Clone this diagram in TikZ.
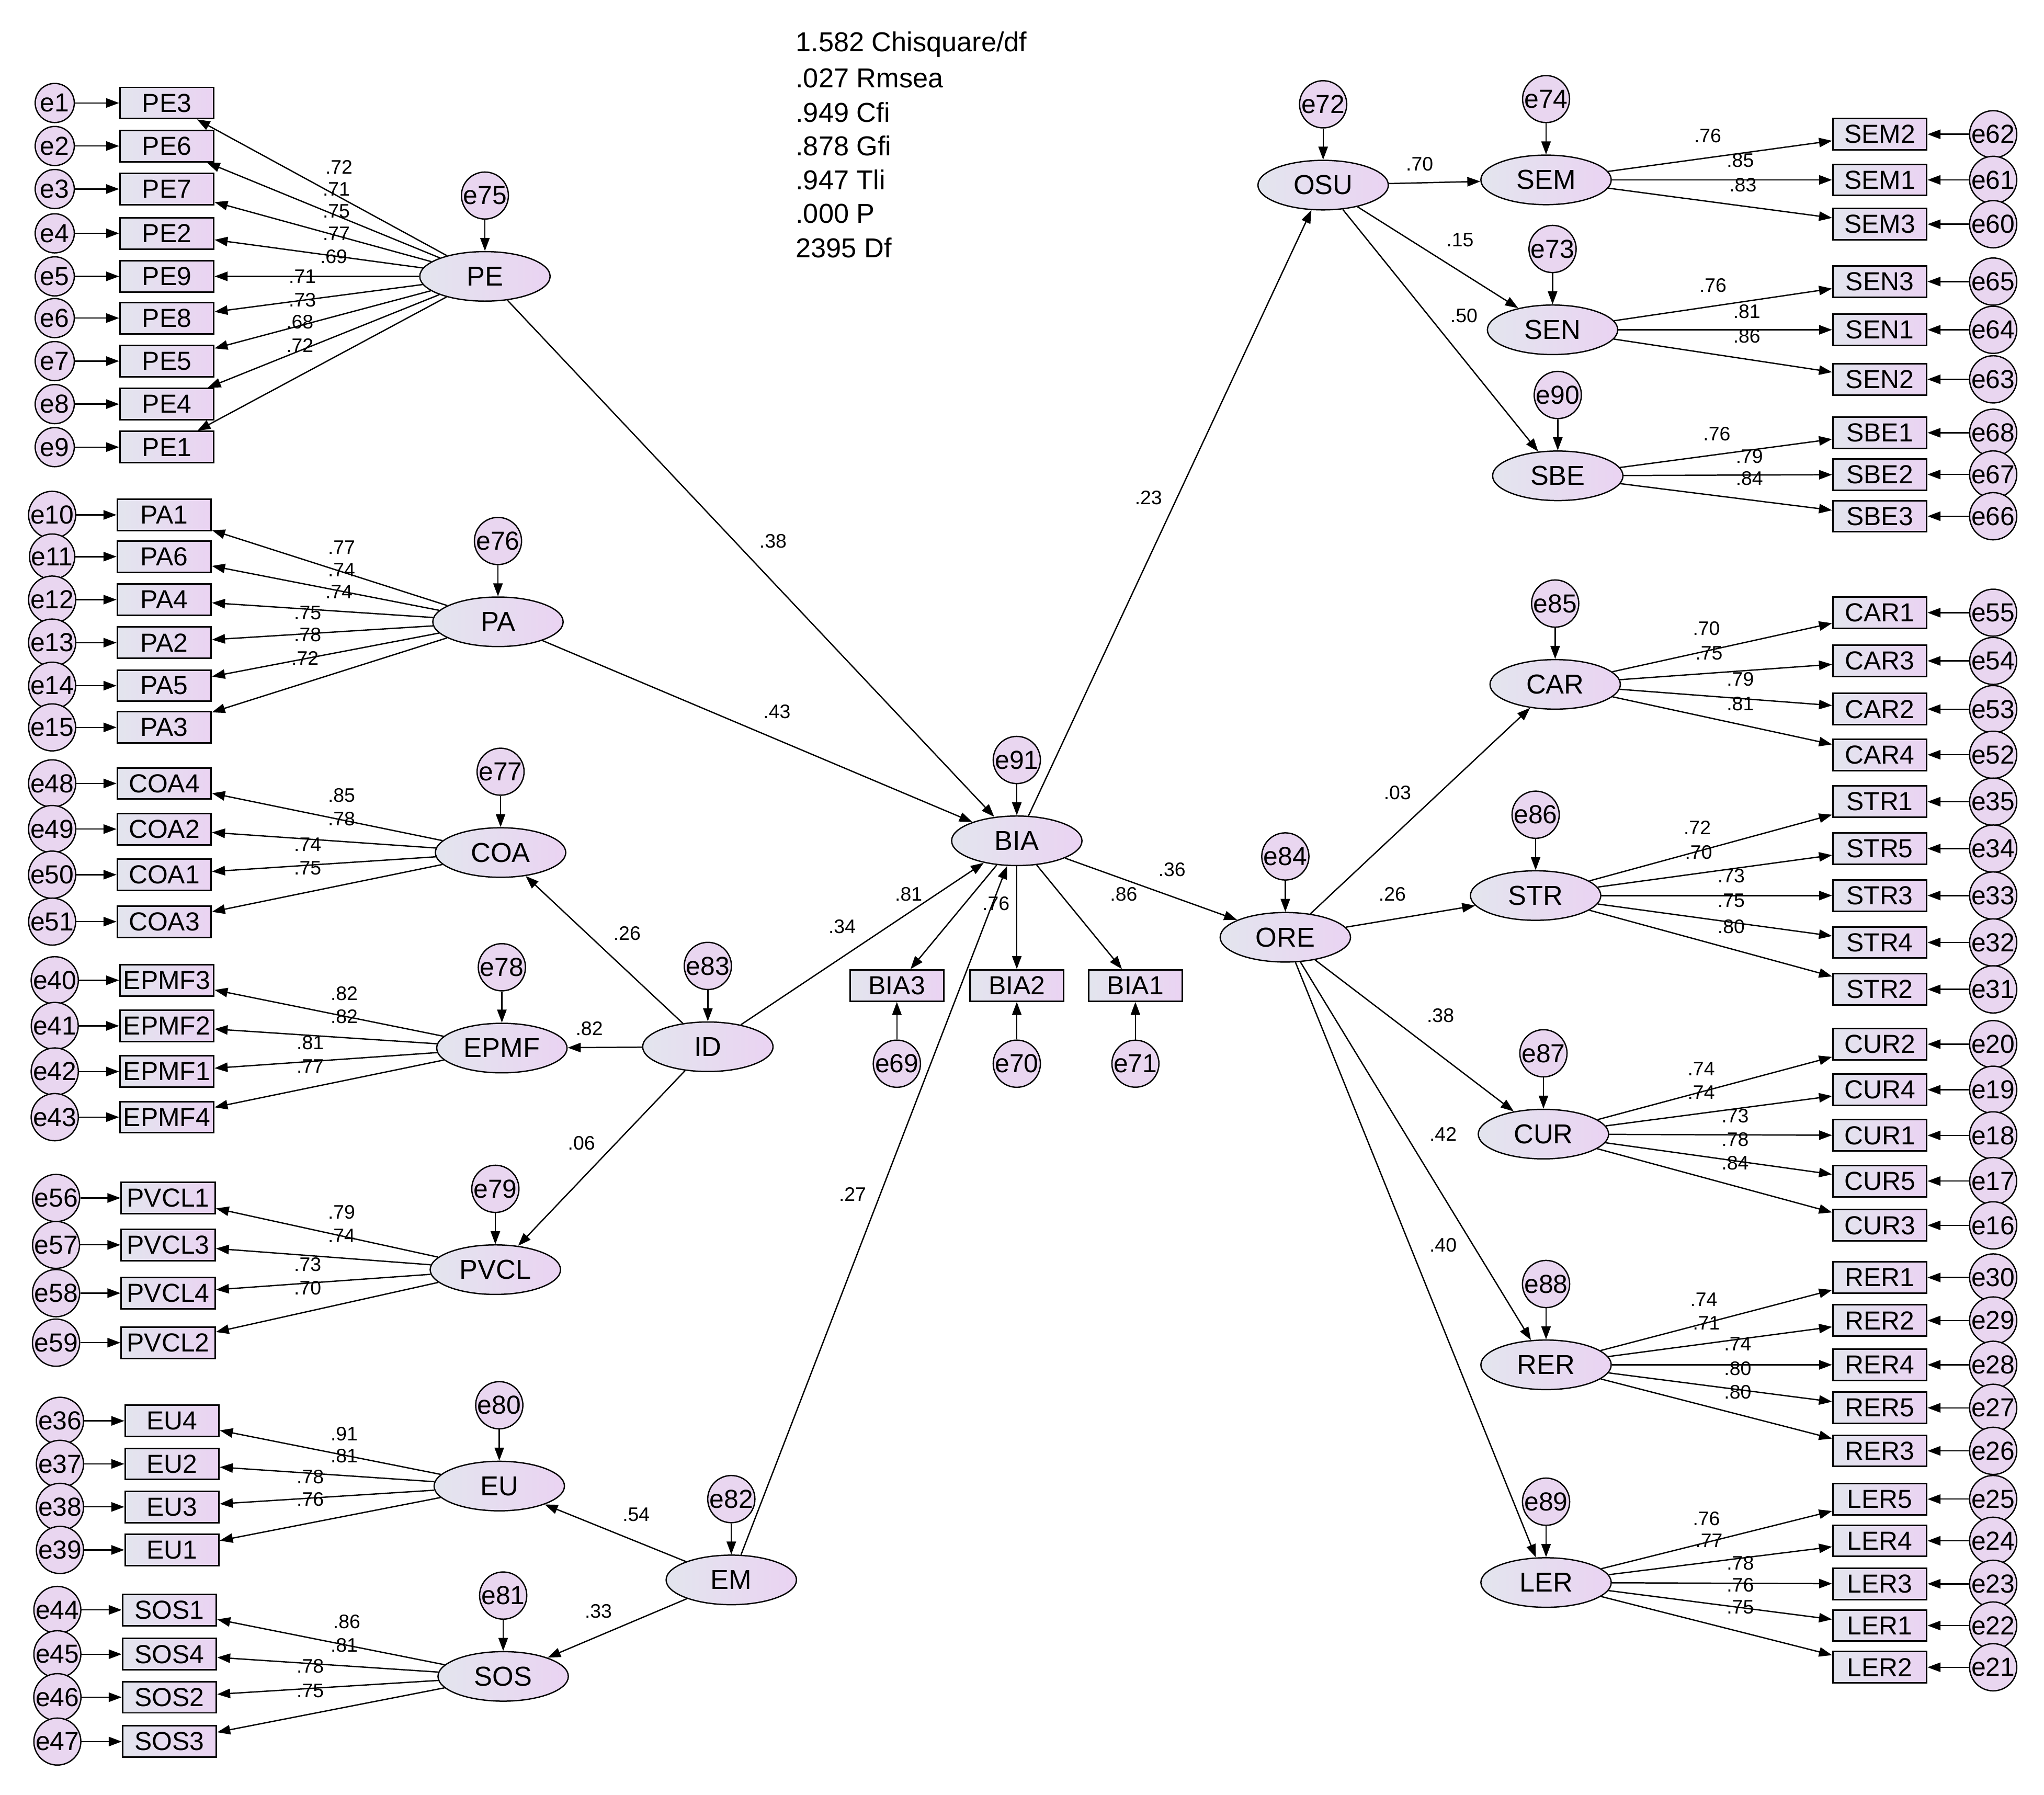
\documentclass[tikz,border=0pt]{standalone}
\usepackage{fontspec}
\setmainfont{Liberation Sans}
\usetikzlibrary{shapes.geometric,arrows.meta}
\definecolor{gl}{HTML}{E3E5EE}
\definecolor{gr}{HTML}{EAD3F2}
\definecolor{ef}{HTML}{E9D6F0}
\begin{document}
\begin{tikzpicture}[x=0.5pt,y=-0.5pt,
 box/.style={draw,line width=0.6pt,left color=gl,right color=gr,minimum width=36pt,minimum height=12pt,inner sep=0.5pt,font=\fontsize{10}{10}\selectfont},
 lat/.style={ellipse,draw,line width=0.5pt,left color=gl,right color=gr,minimum width=50pt,minimum height=19pt,inner sep=0pt,font=\fontsize{10.5}{10.5}\selectfont},
 err/.style={circle,draw,line width=0.5pt,fill=ef,minimum size=15pt,inner sep=0pt,font=\fontsize{10}{10}\selectfont},
 arr/.style={-{Triangle[length=5pt,width=3.6pt]},line width=0.5pt},
 lbl/.style={font=\fontsize{7.5}{7.5}\selectfont,inner sep=0pt},
 fit/.style={font=\fontsize{10.5}{12}\selectfont,anchor=west,inner sep=0pt}]
\useasboundingbox (0,0) rectangle (1568,1377);
% fit indices
\foreach \t [count=\i] in {1.582 Chisquare/df,.027 Rmsea,.949 Cfi,.878 Gfi,.947 Tli,.000 P,2395 Df}
  \node[fit] at (610,{8+26*\i}) {\t};
% latents
\foreach \n/\x/\y/\e in {PE/372/212/e75,PA/382/477/e76,COA/384/654/e77,EPMF/385/804/e78,PVCL/380/974/e79,EU/383/1140/e80,SOS/386/1286/e81,ID/543/803/e83,EM/561/1212/e82,BIA/780/645/e91,OSU/1015/142/e72,SEM/1186/138/e74,SEN/1191/253/e73,SBE/1195/365/e90,ORE/986/719/e84,CAR/1193/525/e85,STR/1178/687/e86,CUR/1184/870/e87,RER/1186/1047/e88,LER/1186/1214/e89}
{ \node[lat] (\n) at (\x,\y) {\n};
  \node[err] (\e) at (\x,\y-62) {\e};
  \draw[arr] (\e) -- (\n); }
% left indicators
\foreach \l/\bx/\ex/\list in {
 PE/128/42/{PE3/e1/79,PE6/e2/112,PE7/e3/145,PE2/e4/179,PE9/e5/212,PE8/e6/244,PE5/e7/277,PE4/e8/310,PE1/e9/343},
 PA/126/40/{PA1/e10/395,PA6/e11/427,PA4/e12/460,PA2/e13/493,PA5/e14/526,PA3/e15/558},
 COA/126/40/{COA4/e48/601,COA2/e49/636,COA1/e50/671,COA3/e51/707},
 EPMF/128/42/{EPMF3/e40/752,EPMF2/e41/787,EPMF1/e42/822,EPMF4/e43/857},
 PVCL/129/43/{PVCL1/e56/919,PVCL3/e57/955,PVCL4/e58/992,PVCL2/e59/1030},
 EU/132/46/{EU4/e36/1090,EU2/e37/1123,EU3/e38/1156,EU1/e39/1189},
 SOS/130/44/{SOS1/e44/1235,SOS4/e45/1269,SOS2/e46/1302,SOS3/e47/1336}}
{ \foreach \b/\e/\y in \list {
   \node[box] (\b) at (\bx,\y) {\b};
   \node[err] (\e) at (\ex,\y) {\e};
   \draw[arr] (\e) -- (\b);
   \draw[arr] (\l) -- (\b); } }
% right indicators
\foreach \l/\list in {
 SEM/{SEM2/e62/103,SEM1/e61/138,SEM3/e60/172},
 SEN/{SEN3/e65/216,SEN1/e64/253,SEN2/e63/291},
 SBE/{SBE1/e68/332,SBE2/e67/364,SBE3/e66/396},
 CAR/{CAR1/e55/470,CAR3/e54/507,CAR2/e53/544,CAR4/e52/579},
 STR/{STR1/e35/615,STR5/e34/651,STR3/e33/687,STR4/e32/723,STR2/e31/759},
 CUR/{CUR2/e20/801,CUR4/e19/836,CUR1/e18/871,CUR5/e17/906,CUR3/e16/940},
 RER/{RER1/e30/980,RER2/e29/1013,RER4/e28/1047,RER5/e27/1080,RER3/e26/1113},
 LER/{LER5/e25/1150,LER4/e24/1182,LER3/e23/1215,LER1/e22/1247,LER2/e21/1279}}
{ \foreach \b/\e/\y in \list {
   \node[box] (\b) at (1442,\y) {\b};
   \node[err] (\e) at (1529,\y) {\e};
   \draw[arr] (\e) -- (\b);
   \draw[arr] (\l) -- (\b); } }
% BIA indicators
\foreach \b/\e/\x in {BIA3/e69/688,BIA2/e70/780,BIA1/e71/871}
{ \node[box] (\b) at (\x,756) {\b};
  \node[err] (\e) at (\x,816) {\e};
  \draw[arr] (\e) -- (\b);
  \draw[arr] (BIA) -- (\b); }
% structural paths
\foreach \a/\b in {ID/COA,ID/EPMF,ID/PVCL,EM/EU,EM/SOS,PE/BIA,PA/BIA,ID/BIA,EM/BIA,BIA/OSU,BIA/ORE,OSU/SEM,OSU/SEN,OSU/SBE,ORE/CAR,ORE/STR,ORE/CUR,ORE/RER,ORE/LER}
  \draw[arr] (\a) -- (\b);
% labels
\foreach \t/\x/\y in {
 .72/260/128,.71/258/145,.75/258/162,.77/258/179,.69/256/197,.71/232/212,.73/232/230,.68/230/247,.72/230/265,
 .77/262/420,.74/262/437,.74/260/454,.75/236/470,.78/236/487,.72/234/505,
 .85/262/610,.78/262/628,.74/236/648,.75/236/666,
 .82/264/762,.82/264/780,.81/238/800,.77/238/818,
 .79/262/930,.74/262/948,.73/236/970,.70/236/988,
 .91/264/1100,.81/264/1117,.78/238/1133,.76/238/1150,
 .86/266/1244,.81/264/1262,.78/238/1278,.75/238/1297,
 .26/481/716,.82/452/789,.06/446/877,.54/488/1162,.33/459/1236,
 .38/593/415,.43/596/546,.34/646/711,.27/654/916,
 .81/697/686,.76/764/693,.86/862/686,.23/881/382,.36/899/667,
 .70/1089/126,.15/1120/184,.50/1123/242,
 .76/1310/104,.85/1335/123,.83/1337/142,
 .76/1314/219,.81/1340/239,.86/1340/258,
 .76/1317/333,.79/1342/350,.84/1342/367,
 .03/1072/608,.26/1068/686,.38/1105/779,.42/1107/870,.40/1107/955,
 .70/1309/482,.75/1311/501,.79/1335/521,.81/1335/540,
 .72/1302/635,.70/1303/654,.73/1328/672,.75/1328/691,.80/1328/711,
 .74/1305/820,.74/1305/838,.73/1331/856,.78/1331/874,.84/1331/892,
 .74/1307/997,.71/1309/1015,.74/1333/1031,.80/1333/1050,.80/1333/1068,
 .76/1309/1165,.77/1311/1182,.78/1335/1199,.76/1335/1216,.75/1335/1233}
 \node[lbl] at (\x,\y) {\t};
\end{tikzpicture}
\end{document}
